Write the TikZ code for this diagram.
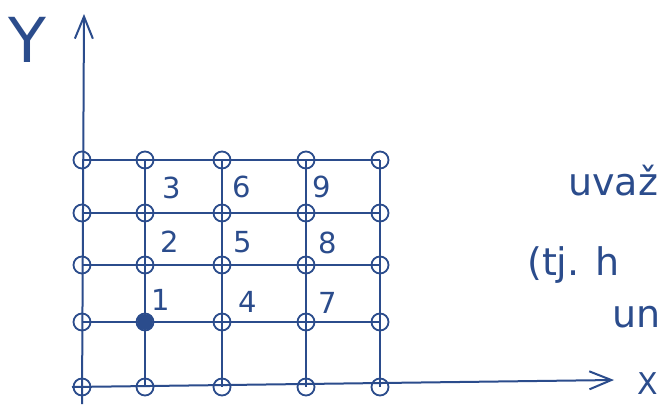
\documentclass[tikz,border=0pt]{standalone}
\usepackage{fontspec}
\setmainfont{DejaVu Sans}
\usetikzlibrary{arrows.meta}
\definecolor{ink}{HTML}{2B4C8C}
\begin{document}
\begin{tikzpicture}[x=1pt,y=-1pt,
  pt/.style={circle,draw=ink,line width=1.8pt,minimum size=17pt,inner sep=0pt},
  ptf/.style={pt,fill=ink},
  gl/.style={draw=ink,line width=2pt},
  num/.style={text=ink,font=\fontsize{29}{31}\selectfont,inner sep=0pt},
  txt/.style={text=ink,font=\fontsize{38}{40}\selectfont,inner sep=0pt,anchor=base west},
  ax/.style={draw=ink,line width=2pt,-{Straight Barb[length=22pt,width=18pt,line width=2pt]}}]
\useasboundingbox (0,0) rectangle (659,408);
\fill[white] (0,0) rectangle (659,408);
% grid points
\foreach \c/\x in {0/82,1/145,2/222,3/306,4/380}{
  \foreach \r/\y in {0/160,1/213,2/265,3/322,4/387}{
    \coordinate (p\c\r) at (\x,\y);
  }
}
% axes
\coordinate (yb) at (82,404);
\coordinate (yt) at (84,14);
\coordinate (xb) at (72,387);
\coordinate (xt) at (614,380);
\draw[ax] (yb) -- (yt);
\draw[ax] (xb) -- (xt);
% grid lines
\foreach \r in {0,1,2,3}{
  \draw[gl] (p0\r) -- (p1\r) -- (p2\r) -- (p3\r) -- (p4\r);
}
\foreach \c in {1,2,3,4}{
  \draw[gl] (p\c0) -- (p\c1) -- (p\c2) -- (p\c3) -- (p\c4);
}
% circles
\foreach \c in {0,1,2,3,4}{
  \foreach \r in {0,1,2,3,4}{
    \node[pt] (n\c\r) at (p\c\r) {};
  }
}
\node[ptf,minimum size=14pt] (f13) at (p13) {};
% numbers
\node[num] (l3) at (172,188) {3};
\node[num] (l6) at (242,187) {6};
\node[num] (l9) at (322,187) {9};
\node[num] (l2) at (170,242) {2};
\node[num] (l5) at (243,242) {5};
\node[num] (l8) at (328,243) {8};
\node[num] (l1) at (161,300) {1};
\node[num] (l4) at (248,302) {4};
\node[num] (l7) at (328,303) {7};
% axis labels
\node[text=ink,font=\fontsize{62}{64}\selectfont,inner sep=0pt] (ylab) at (27,40) {Y};
\node[text=ink,font=\fontsize{30}{32}\selectfont,inner sep=0pt,anchor=base east] (xlab) at (658,394) {X};
% side text
\node[txt] (t1) at (568,195) {uvaž};
\node[txt] (t2) at (527,275) {(tj. h};
\node[txt] (t3) at (612,327) {un};
\end{tikzpicture}
\end{document}
